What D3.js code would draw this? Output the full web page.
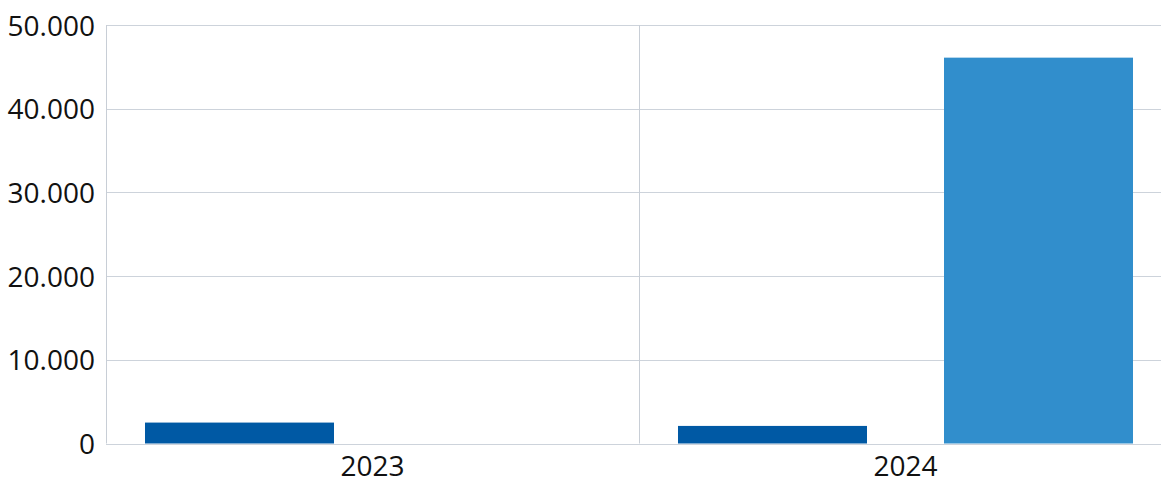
<!DOCTYPE html>
<html>
<head>
<meta charset="utf-8">
<script src="https://cdn.jsdelivr.net/npm/d3@7"></script>
<style>
  body { margin: 0; background: #fff; }
  text { font-family: "Open Sans", "Noto Sans", sans-serif; fill: #111; }
</style>
</head>
<body>
<svg id="chart" width="1161" height="478"></svg>
<script>
// data
const years = ["2023", "2024"];
const series = ["a", "b"];
const valuesA = [2500, 2100];
const valuesB = [0, 46100];
const yTicks = [0, 10000, 20000, 30000, 40000, 50000];
const colors = ["#0059a4", "#318ecc"];

const svg = d3.select("#chart");
const plotL = 106, plotR = 1172, plotT = 25, plotB = 443.5;

const loc = d3.formatLocale({ decimal: ",", thousands: ".", grouping: [3], currency: ["", " €"] });
const fmt = loc.format(",d");

let x0 = d3.scaleBand().domain(years).range([plotL, plotR]).padding(0);
let x1 = d3.scaleBand().domain(series).range([0, x0.bandwidth()])
  .paddingInner(0.2895).paddingOuter(0.1466);
let y = d3.scaleLinear().domain([0, 50000]).range([plotB, plotT]);

// grid
svg.append("g").selectAll("line").data(yTicks).enter().append("line")
  .attr("x1", plotL).attr("x2", plotR)
  .attr("y1", d => Math.round(y(d)) + 0.5).attr("y2", d => Math.round(y(d)) + 0.5)
  .attr("stroke", "#cdd3db").attr("stroke-width", 1);

// vertical lines: left edge and category divider
svg.append("g").selectAll("line").data(years).enter().append("line")
  .attr("x1", d => Math.round(x0(d)) + 0.5).attr("x2", d => Math.round(x0(d)) + 0.5)
  .attr("y1", plotT).attr("y2", plotB)
  .attr("stroke", "#c8ced6");

// bars
let rows = years.map((yr, i) => ({ year: yr, vals: [valuesA[i], valuesB[i]] }));
let groups = svg.append("g").selectAll("g").data(rows).enter().append("g")
  .attr("transform", d => "translate(" + x0(d.year) + ",0)");
groups.selectAll("rect")
  .data(d => d.vals.map((v, j) => ({ key: series[j], v: v, j: j })).filter(d => d.v > 0))
  .enter().append("rect")
  .attr("x", d => x1(d.key))
  .attr("width", x1.bandwidth())
  .attr("y", d => y(d.v))
  .attr("height", d => y(0) - y(d.v))
  .attr("fill", d => colors[d.j]);

// y labels
svg.append("g").selectAll("text").data(yTicks).enter().append("text")
  .attr("x", 95).attr("y", d => y(d) + 10.5)
  .attr("text-anchor", "end")
  .attr("font-size", 28)
  .text(d => fmt(d));

// x labels
svg.append("g").selectAll("text").data(years).enter().append("text")
  .attr("x", d => x0(d) + x0.bandwidth() / 2)
  .attr("y", 476)
  .attr("text-anchor", "middle")
  .attr("font-size", 28)
  .text(d => d);
</script>
</body>
</html>
